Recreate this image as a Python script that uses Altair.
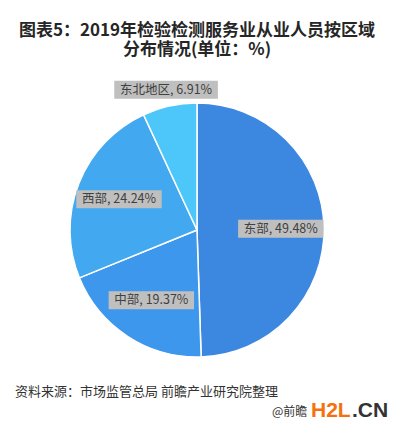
import altair as alt
import pandas as pd
import numpy as np

regions = ["东部", "中部", "西部", "东北地区"]
shares = [49.48, 19.37, 24.24, 6.91]
colors = ["#3C87E0", "#3D97EC", "#42A9F1", "#4DC6FA"]

title_lines = ["图表5：2019年检验检测服务业从业人员按区域", "分布情况(单位：%)"]
source_text = "资料来源：市场监管总局 前瞻产业研究院整理"

FONT = "Noto Sans CJK SC"
W, H = 378, 340
R = 127
cx, cy = W / 2, H / 2

df = pd.DataFrame({"region": regions, "share": shares, "order": list(range(len(regions)))})
total = df["share"].sum()
cum = df["share"].cumsum()
mid = (cum - df["share"] / 2) / total * 2 * np.pi
rr = np.where(df["share"] < 10, 1.13 * R, 0.66 * R)
df["lx"] = cx + rr * np.sin(mid)
df["ly"] = cy - rr * np.cos(mid)
df["label"] = df["region"] + ", " + df["share"].map("{:.2f}%".format)


def textw(s):
    return sum(12.5 if ord(c) > 0x2E80 else 6.8 for c in s)


df["bw"] = df["label"].map(textw) + 6
df["bx1"] = df["lx"] - df["bw"] / 2
df["bx2"] = df["lx"] + df["bw"] / 2
df["by1"] = df["ly"] - 9
df["by2"] = df["ly"] + 9

base = alt.Chart(df)
pie = base.mark_arc(outerRadius=R, stroke="white", strokeWidth=1.5).encode(
    theta=alt.Theta("share:Q", stack=True),
    order=alt.Order("order:Q"),
    color=alt.Color("region:N", scale=alt.Scale(domain=regions, range=colors), legend=None),
)
boxes = base.mark_rect(fill="#BFBFBF").encode(
    x=alt.X("bx1:Q", scale=None, axis=None),
    x2="bx2:Q",
    y=alt.Y("by1:Q", scale=None, axis=None),
    y2="by2:Q",
)
labels = base.mark_text(fontSize=12.5, color="#404040", font=FONT).encode(
    x=alt.X("lx:Q", scale=None, axis=None),
    y=alt.Y("ly:Q", scale=None, axis=None),
    text="label:N",
)

one = alt.Data(values=[{}])
src = alt.Chart(one).mark_text(
    text=source_text, font=FONT, fontSize=13, color="#333333", align="left", baseline="alphabetic"
).encode(x=alt.value(7), y=alt.value(336))
wm1 = alt.Chart(one).mark_text(
    text="@前瞻", font=FONT, fontSize=12, color="#333333", align="left", baseline="alphabetic"
).encode(x=alt.value(264), y=alt.value(356))
wm2 = alt.Chart(one).mark_text(
    text="H2L", font="Liberation Sans", fontSize=21, fontWeight="bold", color="#F5700F",
    align="left", baseline="alphabetic"
).encode(x=alt.value(303), y=alt.value(357))
wm3 = alt.Chart(one).mark_text(
    text=".CN", font="Liberation Sans", fontSize=21, fontWeight="bold", color="#333333",
    align="left", baseline="alphabetic"
).encode(x=alt.value(344), y=alt.value(357))

chart = alt.layer(pie, boxes, labels, src, wm1, wm2, wm3).properties(
    width=W,
    height=H,
    autosize=alt.AutoSizeParams(type="none"),
    padding={"left": 0, "top": 52, "right": 4, "bottom": 25},
    title=alt.TitleParams(
        text=title_lines, anchor="middle", fontSize=17, font=FONT, fontWeight="bold",
        color="#262626", offset=1, lineHeight=19,
    ),
).configure_view(stroke=None)

chart.save("out.html", embed_options={"renderer": "svg", "actions": False})
